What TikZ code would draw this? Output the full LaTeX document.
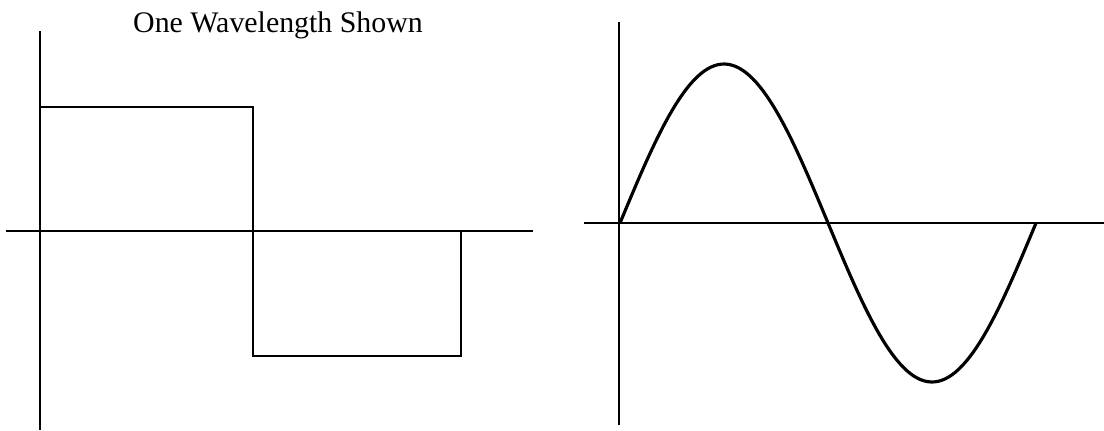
\documentclass[tikz,border=0pt]{standalone}
\usepackage{fontspec}
\setmainfont{Liberation Serif}
\begin{document}
\begin{tikzpicture}[
        x=0.02cm, y=-0.02cm,
        eixo/.style={draw, line width=1.1pt},
        onda/.style={draw, line width=1.1pt},
        seno/.style={draw, line width=1.8pt, line join=round}]
        \useasboundingbox (0,0) rectangle (1104,430);
        \node[font=\fontsize{17}{20}\selectfont, inner sep=0pt, anchor=base] (titulo) at (278,32) {One Wavelength Shown};
        % quadrada
        \coordinate (qO) at (40,231);
        \draw[eixo] (40,31) -- (40,430);
        \draw[eixo] (6,231) -- (533,231);
        \draw[onda] (qO) -- (40,107) -- (253,107) -- (253,356) -- (461,356) -- (461,231);
        % senoidal
        \coordinate (sO) at (620,223);
        \draw[eixo] (619,22) -- (619,425);
        \draw[eixo] (584,223) -- (1104,223);
        \draw[seno] (sO) plot[domain=0:416, samples=120] ({\x+620},{223-159*sin(\x/416*360)});
    \end{tikzpicture}
\end{document}
